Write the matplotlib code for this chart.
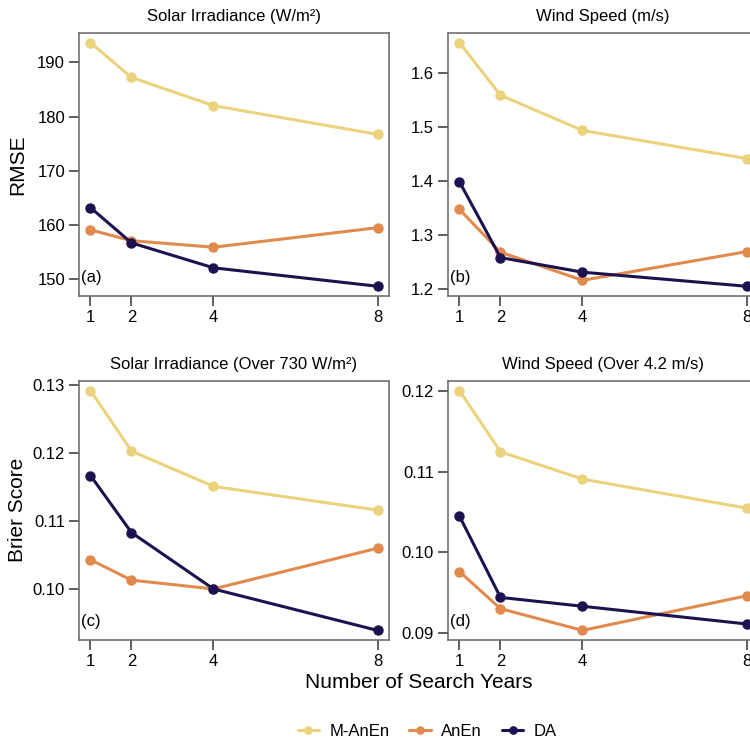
"""
RMSE / Brier score vs number of search years — 2x2 panel figure.
"""

import matplotlib
matplotlib.use("Agg")
import matplotlib.pyplot as plt

plt.rcParams["font.family"] = ["Liberation Sans", "DejaVu Sans"]

years = [1, 2, 4, 8]
methods = ["M-AnEn", "AnEn", "DA"]
colors = {"M-AnEn": "#EBD27C", "AnEn": "#E08B4D", "DA": "#1C1250"}

# --- values ---
rmse_solar = {
    "M-AnEn": [193.6, 187.2, 182.0, 176.7],
    "AnEn":   [159.1, 157.1, 155.9, 159.5],
    "DA":     [163.2, 156.7, 152.1, 148.7],
}
rmse_wind = {
    "M-AnEn": [1.655, 1.558, 1.493, 1.441],
    "AnEn":   [1.347, 1.268, 1.216, 1.269],
    "DA":     [1.398, 1.258, 1.231, 1.205],
}
brier_solar = {
    "M-AnEn": [0.1292, 0.1203, 0.1151, 0.1116],
    "AnEn":   [0.1043, 0.1013, 0.1000, 0.1060],
    "DA":     [0.1167, 0.1083, 0.1000, 0.0939],
}
brier_wind = {
    "M-AnEn": [0.1201, 0.1125, 0.1091, 0.1055],
    "AnEn":   [0.0976, 0.0930, 0.0903, 0.0946],
    "DA":     [0.1045, 0.0944, 0.0933, 0.0911],
}

panels = [
    ("Solar Irradiance (W/m²)", rmse_solar, [150, 160, 170, 180, 190], "{:.0f}", "(a)"),
    ("Wind Speed (m/s)", rmse_wind, [1.2, 1.3, 1.4, 1.5, 1.6], "{:.1f}", "(b)"),
    ("Solar Irradiance (Over 730 W/m²)", brier_solar, [0.10, 0.11, 0.12, 0.13], "{:.2f}", "(c)"),
    ("Wind Speed (Over 4.2 m/s)", brier_wind, [0.09, 0.10, 0.11, 0.12], "{:.2f}", "(d)"),
]

W, H = 750, 742
fig = plt.figure(figsize=(W / 100, H / 100), dpi=100)

# pixel boxes (left, top, width, height)
boxes = [(79, 33, 310, 263), (448, 33, 310, 263),
         (79, 381, 310, 259), (448, 381, 310, 259)]

for (title, data, yt, fmt, tag), (l, t, w, h) in zip(panels, boxes):
    ax = fig.add_axes([l / W, 1 - (t + h) / H, w / W, h / H])
    for m in methods:
        ax.plot(years, data[m], "o-", color=colors[m], lw=2.2, ms=6.5,
                label=m, solid_capstyle="round")
    allv = [v for m in methods for v in data[m]]
    lo, hi = min(allv), max(allv)
    pad = 0.04 * (hi - lo)
    ax.set_ylim(lo - pad, hi + pad)
    ax.set_xlim(0.72, 8.28)
    ax.set_xticks(years)
    ax.set_yticks(yt)
    ax.set_yticklabels([fmt.format(v) for v in yt])
    ax.tick_params(direction="out", length=7, width=1.1, labelsize=12,
                   pad=3, color="#333333")
    for s in ax.spines.values():
        s.set_color("#666666")
        s.set_linewidth(1.1)
    ax.set_title(title, fontsize=12, pad=9)
    ax.text(0.006, 0.07, tag, transform=ax.transAxes, fontsize=12,
            ha="left", va="center")

fig.text(18 / W, 1 - 165 / H, "RMSE", rotation=90, fontsize=15,
         ha="center", va="center")
fig.text(18 / W, 1 - 510 / H, "Brier Score", rotation=90, fontsize=15,
         ha="center", va="center")
fig.text(419 / W, 1 - 683 / H, "Number of Search Years", fontsize=15,
         ha="center", va="center")

handles, labels = ax.get_legend_handles_labels()
fig.legend(handles, labels, loc="center", bbox_to_anchor=(427 / W, 1 - 731 / H),
           ncol=3, frameon=False, fontsize=12, handlelength=1.3,
           columnspacing=1.2, handletextpad=0.6, markerscale=0.8)

plt.savefig("out.png", dpi=100)
plt.close()
